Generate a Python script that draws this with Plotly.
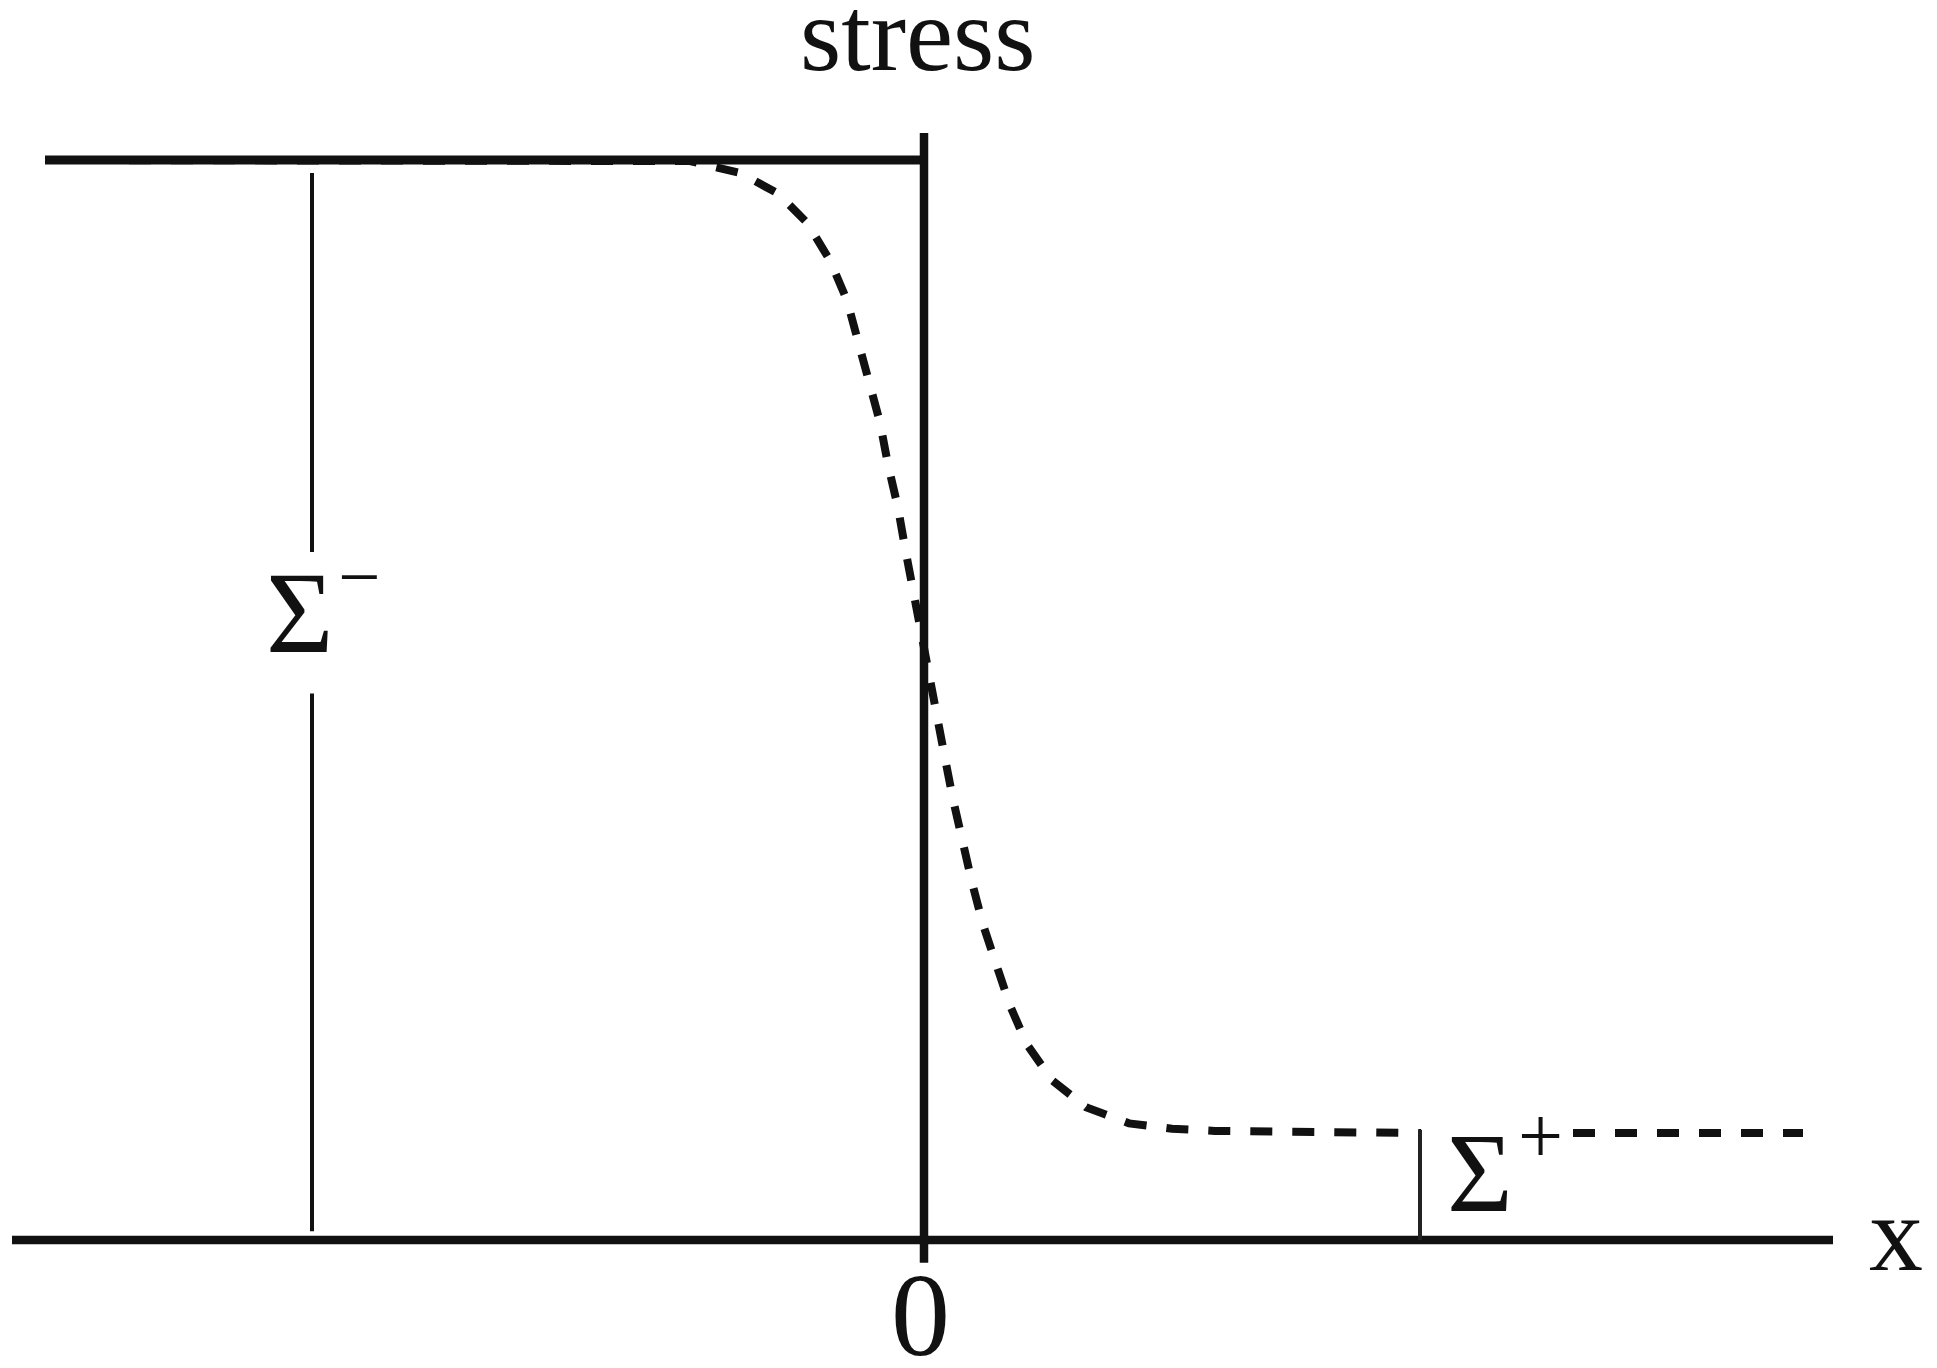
import plotly.graph_objects as go

# ---- data (x in units of the diagram, y: stress with baseline 0, Σ⁻ level 1) ----
# dashed (smoothed) stress profile, up to the Σ⁺ marker
curve_x = [-8.79, -2.34, -1.84, -1.46, -1.17, -0.94, -0.77, -0.66, -0.54, -0.44, -0.36,
           -0.26, -0.19, -0.11, -0.02, 0.05, 0.12, 0.21, 0.29, 0.38, 0.48, 0.59, 0.72,
           0.86, 1.03, 1.28, 1.62, 2.05, 2.48, 2.91, 4.97]
curve_y = [1.0, 0.999, 0.988, 0.969, 0.942, 0.907, 0.870, 0.833, 0.794, 0.757, 0.718,
           0.678, 0.641, 0.600, 0.561, 0.525, 0.485, 0.446, 0.408, 0.369, 0.331, 0.292, 0.254,
           0.217, 0.181, 0.148, 0.123, 0.108, 0.103, 0.101, 0.099]
# dashed profile continued to the right of the Σ⁺ label
tail_x = [6.49, 8.79]
tail_y = [0.099, 0.099]

step_x = [-8.79, 0.0]          # upper solid level (Σ⁻)
step_y = [1.0, 1.0]
jump_x = [0.0, 0.0]            # vertical jump at x = 0
jump_y = [1.025, -0.021]
axis_x = [-9.12, 9.09]         # x axis line
axis_y = [0.0, 0.0]
sigma_minus_x = -6.12
sigma_minus_top = [0.988, 0.637]
sigma_minus_bot = [0.506, 0.008]
sigma_plus_x = 4.96
sigma_plus_level = 0.102

title_text = "stress"
origin_text = "0"
axis_text = "x"
sigma_text = "Σ"
minus_text = "−"
plus_text = "+"

BLACK = "#111111"
FONT = "Liberation Serif"


# reference-pixel -> data helpers (page body has an 8px margin, handled in the ranges)
def py(px):
    return (1240 - px) / 1080.0


def pxx(px):
    return (px - 924) / 100.0


DASH = dict(color=BLACK, width=8, dash="22px,20px")

fig = go.Figure()
fig.add_trace(go.Scatter(x=curve_x, y=curve_y, mode="lines",
                         line=dict(**DASH, shape="linear"), hoverinfo="skip"))
fig.add_trace(go.Scatter(x=tail_x, y=tail_y, mode="lines",
                         line=dict(**DASH), hoverinfo="skip"))
fig.add_trace(go.Scatter(x=axis_x, y=axis_y, mode="lines",
                         line=dict(color=BLACK, width=8.5), hoverinfo="skip"))
fig.add_trace(go.Scatter(x=step_x, y=step_y, mode="lines",
                         line=dict(color=BLACK, width=9), hoverinfo="skip"))
fig.add_trace(go.Scatter(x=jump_x, y=jump_y, mode="lines",
                         line=dict(color=BLACK, width=8.5), hoverinfo="skip"))
fig.add_trace(go.Scatter(x=[sigma_minus_x, sigma_minus_x], y=sigma_minus_top, mode="lines",
                         line=dict(color=BLACK, width=4), hoverinfo="skip"))
fig.add_trace(go.Scatter(x=[sigma_minus_x, sigma_minus_x], y=sigma_minus_bot, mode="lines",
                         line=dict(color=BLACK, width=4), hoverinfo="skip"))
fig.add_trace(go.Scatter(x=[sigma_plus_x, sigma_plus_x], y=[sigma_plus_level, 0.0], mode="lines",
                         line=dict(color="#222222", width=4), hoverinfo="skip"))

ann = [
    dict(text=title_text, x=pxx(918), y=py(34), size=106),
    dict(text=origin_text, x=pxx(920), y=py(1315), size=118),
    dict(text=axis_text, x=pxx(1896), y=py(1233), size=108),
    dict(text=sigma_text, x=pxx(300), y=py(613), size=116),
    dict(text=minus_text, x=pxx(359), y=py(576), size=75),
    dict(text=sigma_text, x=pxx(1480), y=py(1172), size=113),
    dict(text=plus_text, x=pxx(1540), y=py(1136), size=80),
]
for a in ann:
    fig.add_annotation(x=a["x"], y=a["y"], text=a["text"], showarrow=False,
                       xanchor="center", yanchor="middle",
                       font=dict(family=FONT, size=a["size"], color=BLACK))

fig.update_layout(
    width=1937, height=1368,
    margin=dict(l=0, r=0, t=0, b=0),
    paper_bgcolor="white", plot_bgcolor="white",
    showlegend=False,
    xaxis=dict(visible=False, range=[(8 - 924) / 100.0, (1945 - 924) / 100.0], fixedrange=True),
    yaxis=dict(visible=False, range=[(1240 - 1376) / 1080.0, (1240 - 8) / 1080.0], fixedrange=True),
)

fig.write_html("out.html")
